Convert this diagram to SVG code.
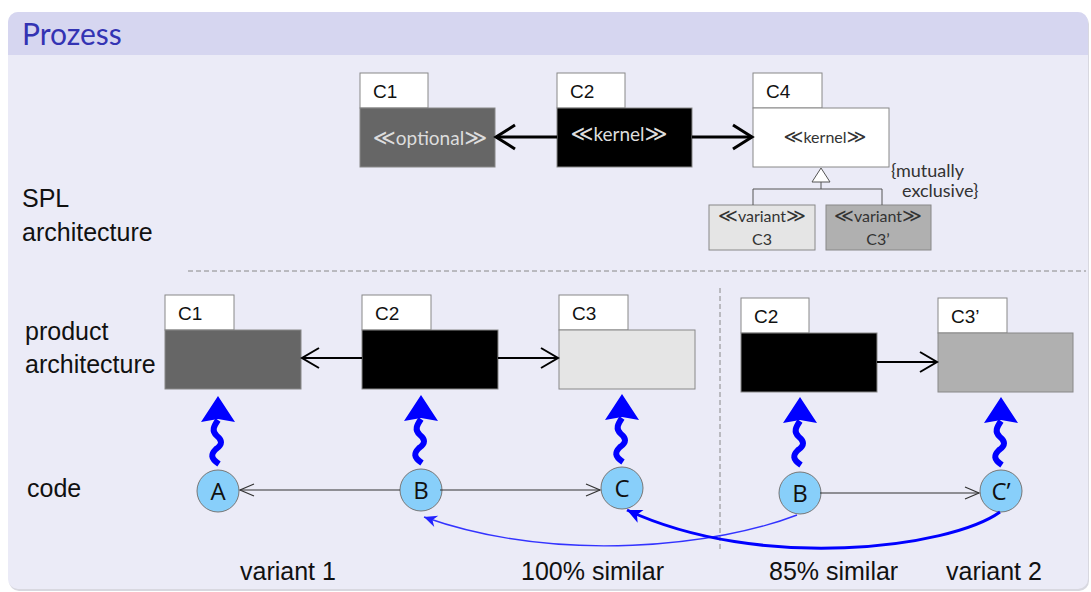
<svg xmlns="http://www.w3.org/2000/svg" width="1091" height="592" viewBox="0 0 1091 592">
<style>
.lbl{font-family:"Liberation Sans",Arial,sans-serif;font-size:25px;fill:#111}
.tab{font-family:"Liberation Sans",Arial,sans-serif;font-size:19px;fill:#111}
.st{font-family:Lato,"DejaVu Sans",sans-serif}
.g{font-family:"DejaVu Sans",sans-serif}
.box{stroke:#888;stroke-width:1}
.circ{fill:#88CFFA;stroke:#777;stroke-width:1}
.ctx{font-family:"Open Sans","DejaVu Sans",sans-serif;font-size:24px;fill:#111;text-anchor:middle}
</style>
<defs>
<marker id="op3" markerUnits="userSpaceOnUse" markerWidth="26" markerHeight="30" refX="22" refY="15" orient="auto"><path d="M3 3 L22 15 L3 27" fill="none" stroke="#000" stroke-width="3"/></marker>
<marker id="op2" markerUnits="userSpaceOnUse" markerWidth="24" markerHeight="26" refX="20" refY="13" orient="auto"><path d="M3 3 L20 13 L3 23" fill="none" stroke="#000" stroke-width="2"/></marker>
<marker id="op1" markerUnits="userSpaceOnUse" markerWidth="18" markerHeight="18" refX="16" refY="9" orient="auto"><path d="M2 3 L16 9 L2 15" fill="none" stroke="#333" stroke-width="1.2"/></marker>
<marker id="bl1" markerUnits="userSpaceOnUse" markerWidth="16" markerHeight="14" refX="14" refY="7" orient="auto"><path d="M14 7 L1 1 L5 7 L1 13 Z" fill="#2222ff"/></marker>
<marker id="bl2" markerUnits="userSpaceOnUse" markerWidth="18" markerHeight="16" refX="16" refY="8" orient="auto"><path d="M16 8 L1 1 L5 8 L1 15 Z" fill="#0000ff"/></marker>
<g id="squig"><path d="M1 0 C-8 -6 -7 -10 -2 -15 C5 -20 4 -24 -1 -28 C-7 -33 -4 -38 0 -44" stroke="#0000ff" stroke-width="6" fill="none"/><path d="M0 -68 L-17 -42 L0 -45 L17 -42 Z" fill="#0000ff"/></g>
</defs>

<rect x="9" y="14" width="1080" height="577" rx="10" fill="#d8d8e0"/>
<rect x="8" y="12" width="1080" height="577" rx="10" fill="#EBEBF7"/>
<path d="M8 55 V22 A10 10 0 0 1 18 12 H1078 A10 10 0 0 1 1088 22 V55 Z" fill="#D6D6F0"/>
<text x="22" y="45" style="font-family:Lato,'Open Sans',sans-serif;font-size:30px;fill:#3333B3">Prozess</text>

<g id="labels">
<text class="lbl" x="22" y="207">SPL</text>
<text class="lbl" x="22" y="241">architecture</text>
<text class="lbl" x="25" y="340">product</text>
<text class="lbl" x="25" y="373">architecture</text>
<text class="lbl" x="27" y="497">code</text>
<text class="lbl" x="240" y="580">variant 1</text>
<text class="lbl" x="521" y="580">100% similar</text>
<text class="lbl" x="769" y="580">85% similar</text>
<text class="lbl" x="946" y="580">variant 2</text>
</g>

<g id="separators" fill="none" stroke="#888" stroke-width="1" stroke-dasharray="5,3">
<line x1="188" y1="271" x2="1086" y2="271"/>
<line x1="720" y1="288" x2="720" y2="550"/>
</g>

<g id="spl-C1">
<rect class="box" x="360" y="73" width="68" height="35" fill="#fff"/>
<rect class="box" x="360" y="108" width="135" height="59" fill="#666"/>
<text class="tab" x="373" y="98">C1</text>
<text class="st" x="430" y="145" text-anchor="middle" font-size="19" fill="#ddd"><tspan class="g" font-size="22">≪</tspan>optional<tspan class="g" font-size="22">≫</tspan></text>
</g>
<g id="spl-C2">
<rect class="box" x="557" y="73" width="68" height="35" fill="#fff"/>
<rect class="box" x="557" y="108" width="135" height="59" fill="#000"/>
<text class="tab" x="570" y="98">C2</text>
<text class="st" x="619" y="141" text-anchor="middle" font-size="19" fill="#ddd"><tspan class="g" font-size="22">≪</tspan>kernel<tspan class="g" font-size="22">≫</tspan></text>
</g>
<g id="spl-C4">
<rect class="box" x="753" y="73" width="69" height="35" fill="#fff"/>
<rect class="box" x="753" y="108" width="136" height="59" fill="#fff"/>
<text class="tab" x="766" y="98">C4</text>
<text class="st" x="825" y="143" text-anchor="middle" font-size="16" fill="#333"><tspan class="g" font-size="19">≪</tspan>kernel<tspan class="g" font-size="19">≫</tspan></text>
</g>
<g id="spl-C3">
<rect class="box" x="709" y="205" width="106" height="45" fill="#E5E5E5"/>
<text class="st" x="762" y="222" text-anchor="middle" font-size="16" fill="#333"><tspan class="g" font-size="19">≪</tspan>variant<tspan class="g" font-size="19">≫</tspan></text>
<text class="st" x="762" y="245" text-anchor="middle" font-size="16" fill="#333">C3</text>
</g>
<g id="spl-C3p">
<rect class="box" x="826" y="205" width="105" height="45" fill="#B0B0B0"/>
<text class="st" x="878" y="222" text-anchor="middle" font-size="16" fill="#333"><tspan class="g" font-size="19">≪</tspan>variant<tspan class="g" font-size="19">≫</tspan></text>
<text class="st" x="878" y="245" text-anchor="middle" font-size="16" fill="#333">C3’</text>
</g>
<g id="constraint" class="st" fill="#333" font-size="18">
<text x="891" y="177">{mutually</text>
<text x="902" y="197">exclusive}</text>
</g>

<g id="pa-C1">
<rect class="box" x="165" y="295" width="69" height="35" fill="#fff"/>
<rect class="box" x="165" y="330" width="136" height="59" fill="#666"/>
<text class="tab" x="178" y="320">C1</text>
</g>
<g id="pa-C2">
<rect class="box" x="362" y="295" width="69" height="35" fill="#fff"/>
<rect class="box" x="362" y="330" width="136" height="59" fill="#000"/>
<text class="tab" x="375" y="320">C2</text>
</g>
<g id="pa-C3">
<rect class="box" x="559" y="295" width="69" height="35" fill="#fff"/>
<rect class="box" x="559" y="330" width="136" height="59" fill="#E5E5E5"/>
<text class="tab" x="572" y="320">C3</text>
</g>
<g id="pb-C2">
<rect class="box" x="741" y="298" width="68" height="35" fill="#fff"/>
<rect class="box" x="741" y="333" width="136" height="59" fill="#000"/>
<text class="tab" x="754" y="323">C2</text>
</g>
<g id="pb-C3p">
<rect class="box" x="938" y="298" width="69" height="35" fill="#fff"/>
<rect class="box" x="938" y="333" width="135" height="59" fill="#B0B0B0"/>
<text class="tab" x="951" y="323">C3’</text>
</g>

<g id="code-A"><circle class="circ" cx="218" cy="491" r="21"/><text class="ctx" x="218" y="500">A</text></g>
<g id="code-B1"><circle class="circ" cx="421" cy="490" r="21"/><text class="ctx" x="421" y="499">B</text></g>
<g id="code-C"><circle class="circ" cx="622" cy="488" r="21"/><text class="ctx" x="622" y="497">C</text></g>
<g id="code-B2"><circle class="circ" cx="800" cy="493" r="21"/><text class="ctx" x="800" y="502">B</text></g>
<g id="code-Cp"><circle class="circ" cx="1001" cy="491" r="21"/><text class="ctx" x="1001" y="500">C’</text></g>

<g id="connectors" fill="none">
<line x1="557" y1="137" x2="496" y2="137" stroke="#000" stroke-width="3" marker-end="url(#op3)"/>
<line x1="692" y1="137" x2="752" y2="137" stroke="#000" stroke-width="3" marker-end="url(#op3)"/>
<path d="M821 168 L812 182 L830 182 Z" fill="#fff" stroke="#555" stroke-width="1"/>
<path d="M821 182 V189 M753 205 V189 H882 V205" stroke="#555" stroke-width="1"/>
<line x1="362" y1="358" x2="302" y2="358" stroke="#000" stroke-width="2" marker-end="url(#op2)"/>
<line x1="498" y1="358" x2="558" y2="358" stroke="#000" stroke-width="2" marker-end="url(#op2)"/>
<line x1="877" y1="362" x2="937" y2="362" stroke="#000" stroke-width="2" marker-end="url(#op2)"/>
<line x1="400" y1="490" x2="240" y2="490" stroke="#333" stroke-width="1.2" marker-end="url(#op1)"/>
<line x1="440" y1="490" x2="600" y2="490" stroke="#333" stroke-width="1.2" marker-end="url(#op1)"/>
<line x1="820" y1="493" x2="979" y2="493" stroke="#333" stroke-width="1.2" marker-end="url(#op1)"/>
<path d="M797 515 C720 545 560 565 424 517" stroke="#3333ff" stroke-width="1.4" marker-end="url(#bl1)"/>
<path d="M1000 512 C950 548 760 572 627 510" stroke="#0000ff" stroke-width="3" marker-end="url(#bl2)"/>
<use href="#squig" transform="translate(218,464)"/>
<use href="#squig" transform="translate(421,463)"/>
<use href="#squig" transform="translate(622,462)"/>
<use href="#squig" transform="translate(800,465)"/>
<use href="#squig" transform="translate(1001,465)"/>
</g>
</svg>
